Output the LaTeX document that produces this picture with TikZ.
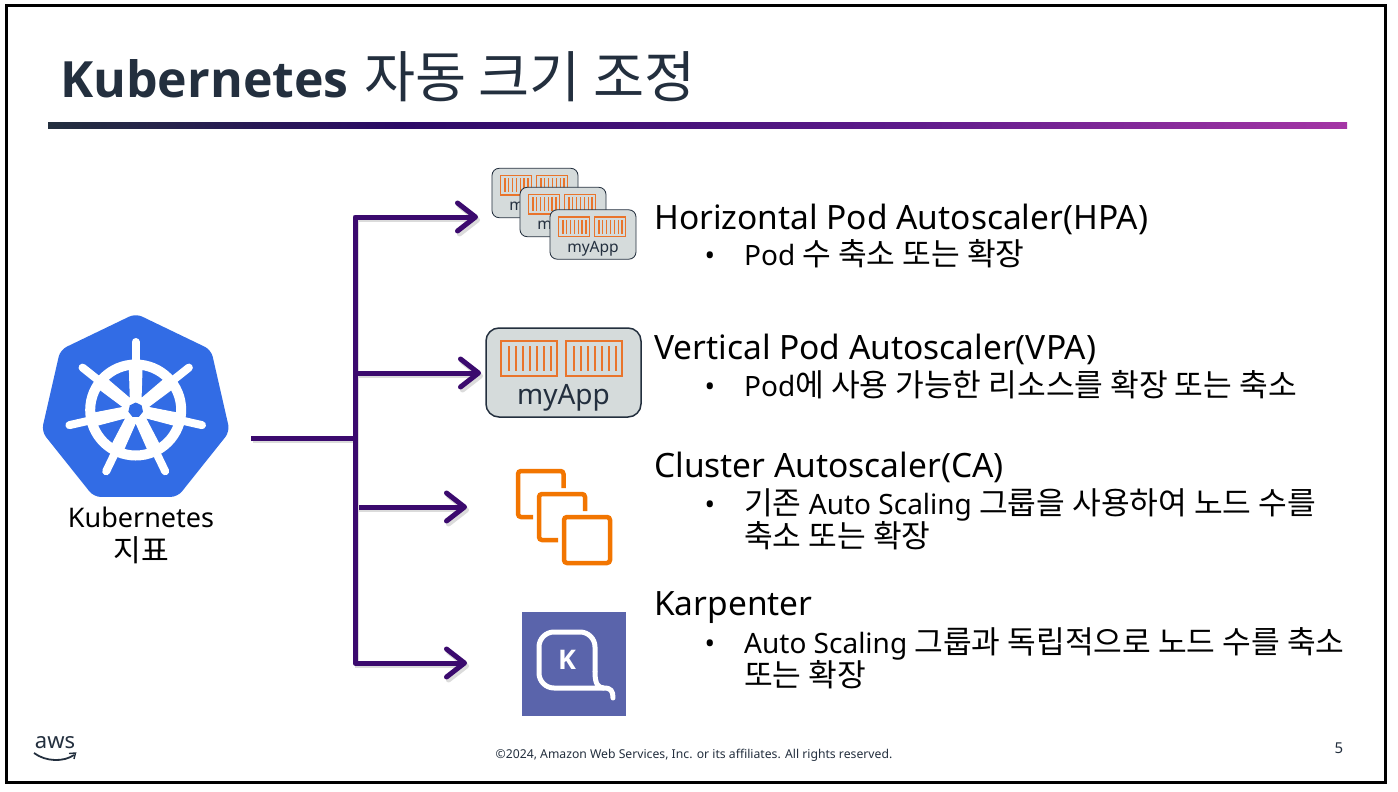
\documentclass[tikz,border=0pt]{standalone}
\usepackage{fontspec}
\usepackage{xcolor}
\setmainfont{Noto Sans}
\newfontfamily\cjk{Noto Sans CJK KR}[Scale=1.115]
\newfontfamily\heavy{Open Sans}
\newcommand{\ko}[1]{{\cjk #1}}
\definecolor{inkdark}{HTML}{232F3E}
\definecolor{arrowpurple}{HTML}{3B0A6E}
\definecolor{rulemid}{HTML}{2C0A66}
\definecolor{rulemidtwo}{HTML}{5D1A8B}
\definecolor{ruleend}{HTML}{A435A5}
\definecolor{k8sblue}{HTML}{326CE5}
\definecolor{podgray}{HTML}{D5DBDB}
\definecolor{podorange}{HTML}{E9742B}
\definecolor{casorange}{HTML}{F27500}
\definecolor{karpblue}{HTML}{5A64AB}
\pgfdeclarehorizontalshading{titlerule}{100bp}{
  color(0bp)=(inkdark); color(25bp)=(inkdark); color(38.5bp)=(rulemid);
  color(57.8bp)=(rulemidtwo); color(75bp)=(ruleend); color(100bp)=(ruleend)}
\usetikzlibrary{arrows.meta, positioning, calc, shapes.geometric}

\begin{document}
\begin{tikzpicture}[
          x=1pt, y=-1pt,
          every node/.style = {inner sep=0pt, text=black},
          heading/.style = {font=\fontsize{33.5}{38}\selectfont, anchor=base west},
          detail/.style = {font=\fontsize{28}{33}\selectfont, anchor=base west, align=left},
          dot/.style = {font=\fontsize{28}{33}\selectfont, anchor=base},
          feed/.style = {line width=5pt, arrowpurple, line join=round,
                         preaction={draw=black!14, line width=4.5pt,
                                    transform canvas={shift={(2pt,-3pt)}}}},
          feedarr/.style = {feed, -{Straight Barb[length=18pt, width=28pt, line width=5pt, round]}},
          spoke/.style = {fill=white, draw=white, line width=1pt, line join=round},
          handle/.style = {draw=white, line width=8pt, line cap=round},
          podk/.store in=\podk, podk=1,
          pods/.pic = {
            \draw[draw=inkdark, fill=podgray, line width=\podk*1.5pt, rounded corners=\podk*13pt]
              (-77.5,-44.5) rectangle (77.5,44.5);
            \foreach \xoff in {-62.5,2.5}{
              \draw[podorange, line width=\podk*2.7pt] (\xoff,-31.5) rectangle ++(56,35);
              \foreach \i in {1,...,7}
                \draw[podorange, line width=\podk*2.7pt] (\xoff+1+\i*7,-26.5) -- ++(0,25);
            }
            \node[transform shape, font=\fontsize{28}{28}\selectfont, text=inkdark] (-label) at (0,25.5) {myApp};
          },
        ]
        \useasboundingbox (0,0) rectangle (1398,792);
        %% Slide frame and title
        \draw[line width=3pt, fill=white] (6,6) rectangle (1385,782);
        \node[anchor=base west, font=\heavy\fontsize{50}{56}\bfseries\selectfont, text=inkdark] (titlebold) at (60,97) {Kubernetes};
        \node[anchor=base west, font=\fontsize{49.8}{56}\selectfont, text=inkdark] (titlerest) at (364,97) {\ko{자동 크기 조정}};
        \shade[shading=titlerule] (48,122) rectangle (1347,128);

        %% Kubernetes logo
        \node[regular polygon, regular polygon sides=7, fill=k8sblue, minimum size=193pt,
              rounded corners=7pt] (k8s) at (135.7,410) {};
        \coordinate (hub) at (135.7,410);
        \draw[white, line width=10pt] (hub) circle (45.5);
        \foreach \ang in {-90,-38.57,12.86,64.29,115.71,167.14,-141.43}{
          \fill[spoke] ($(hub)+(\ang+90:5)$) -- ($(hub)+(\ang:46)+(\ang+90:6.5)$)
            -- ($(hub)+(\ang:46)+(\ang-90:6.5)$) -- ($(hub)+(\ang-90:5)$) -- cycle;
          \draw[handle] ($(hub)+(\ang:48)$) -- ($(hub)+(\ang:68)$);
        }
        \fill[white] (hub) circle (14);
        \node[regular polygon, regular polygon sides=7, fill=k8sblue, minimum size=15pt] (k8shub) at (hub) {};
        \node[font=\fontsize{27}{34}\selectfont, align=center, anchor=north] (k8slabel) at (141,507) {Kubernetes\\\ko{지표}};

        %% Connector tree
        \coordinate (src) at (251,438);
        \coordinate (trunk) at (355,438);
        \coordinate (hpa) at (478,217);
        \coordinate (vpa) at (481,373);
        \coordinate (ca) at (467,507);
        \coordinate (karp) at (467,663);
        \draw[feed] (src) -- (trunk);
        \draw[feedarr] (trunk) |- (hpa);
        \draw[feedarr] (trunk) |- (vpa);
        \draw[feedarr] (trunk) |- (ca);
        \draw[feedarr] (trunk) |- (karp);

        %% Pod icons
        \pic[scale=0.555, podk=0.555] (podone) at (535,193) {pods};
        \pic[scale=0.555, podk=0.555] (podtwo) at (563,212) {pods};
        \pic[scale=0.555, podk=0.555] (podthree) at (593,234.5) {pods};
        \pic[podk=1] (podbig) at (563.5,372.5) {pods};

        %% Cluster autoscaler icon
        \draw[casorange, line width=4.5pt, rounded corners=3pt] (563.5,488) |- (518,471) |- (533,517);
        \draw[casorange, line width=4.5pt, rounded corners=3pt] (585,511) |- (539,494) |- (558,540);
        \draw[casorange, line width=4.5pt, rounded corners=3pt] (564,517) rectangle (610,563);

        %% Karpenter icon
        \fill[karpblue] (522,612) rectangle (626,716);
        \draw[white, line width=5pt, rounded corners=15pt]
          (604,688) -- (539,688) -- (539,632) -- (595,632) -- (595,672);
        \draw[white, line width=5pt, line cap=round] (595,672) .. controls (595,684) and (598,688) .. (604,688)
          .. controls (611,688) and (613,691) .. (613,698);
        \node[font=\heavy\fontsize{27}{27}\bfseries\selectfont, text=white] (karpk) at (567,660) {K};

        %% Right hand text
        \node[heading] (hpatitle) at (654,229) {Horizontal Pod Autoscaler(HPA)};
        \node[dot] (hpadot) at (710,265) {•};
        \node[detail] (hpatext) at (744,265) {Pod \ko{수 축소 또는 확장}};
        \node[heading] (vpatitle) at (654,359) {Vertical Pod Autoscaler(VPA)};
        \node[dot] (vpadot) at (710,396) {•};
        \node[detail] (vpatext) at (744,396) {Pod\ko{에 사용 가능한 리소스를 확장 또는 축소}};
        \node[heading] (catitle) at (654,477) {Cluster Autoscaler(CA)};
        \node[dot] (cadot) at (710,514) {•};
        \node[detail] (catext) at (744,514) {\ko{기존} Auto Scaling \ko{그룹을 사용하여 노드 수를}};
        \node[detail] (catexttwo) at (744,547) {\ko{축소 또는 확장}};
        \node[heading] (karptitle) at (654,615) {Karpenter};
        \node[dot] (karpdot) at (710,653) {•};
        \node[detail] (karptext) at (744,653) {Auto Scaling \ko{그룹과 독립적으로 노드 수를 축소}};
        \node[detail] (karptexttwo) at (744,686) {\ko{또는 확장}};

        %% Footer
        \node[font=\fontsize{22}{22}\selectfont, text=inkdark] (awstext) at (55,743) {aws};
        \draw[inkdark, line width=1.8pt] (34,753) .. controls (46,762) and (64,762) .. (74,755);
        \draw[inkdark, line width=1.4pt] (69,753.5) -- (75.5,753) -- (74,759);
        \node[font=\fontsize{12.2}{13}\selectfont, text=inkdark] (legal) at (694,755) {©2024, Amazon Web Services, Inc. or its affiliates. All rights reserved.};
        \node[font=\fontsize{15}{15}\selectfont, text=inkdark] (pagenum) at (1339,748) {5};
      \end{tikzpicture}
\end{document}
